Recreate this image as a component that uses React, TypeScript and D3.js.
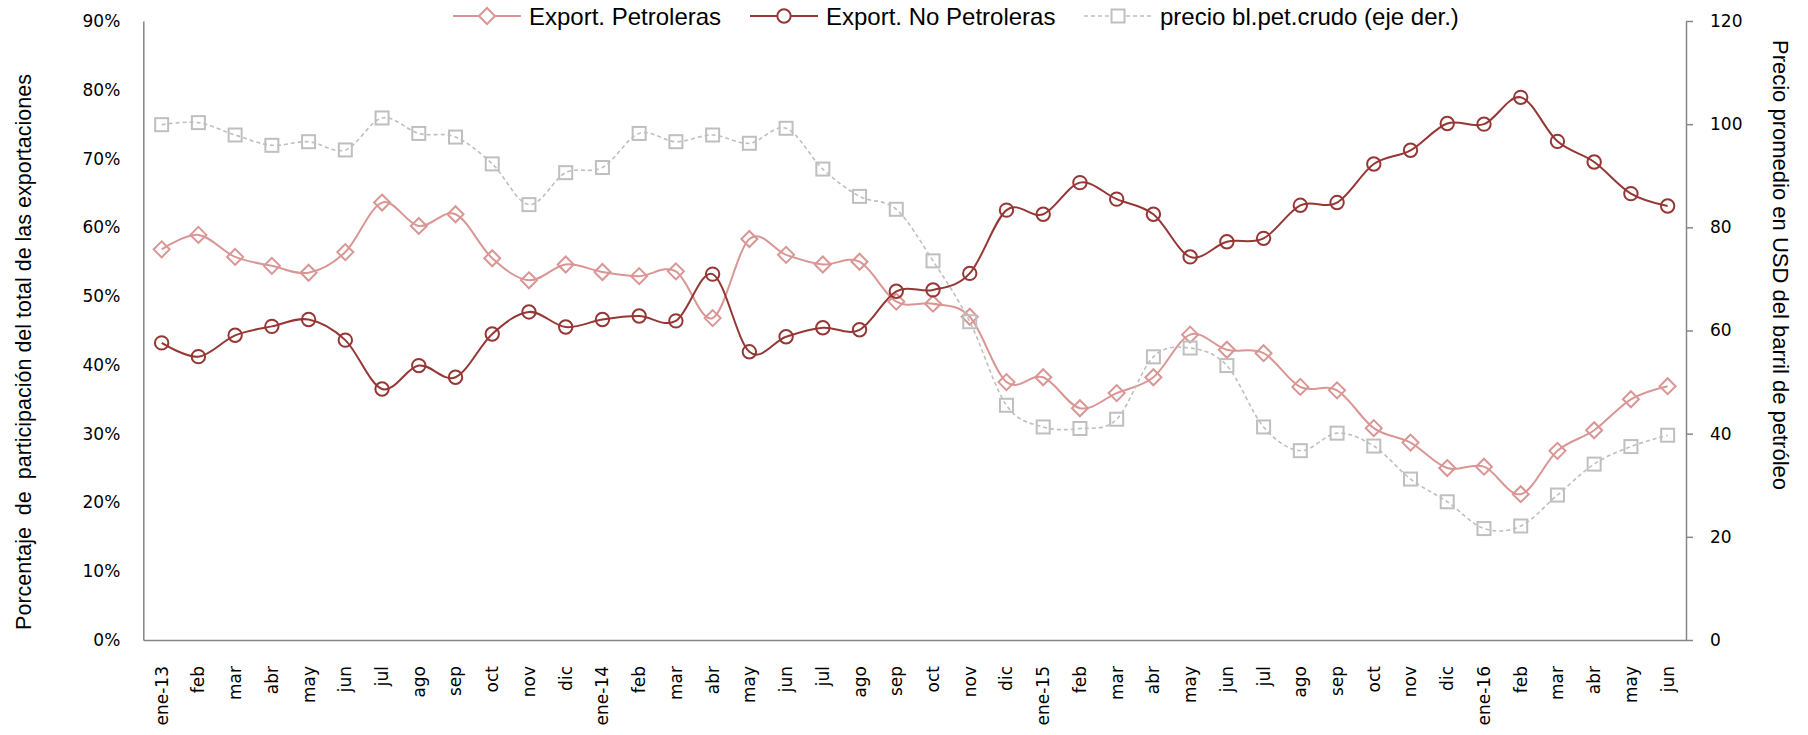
import * as d3 from 'd3';
import React, { useEffect, useRef } from 'react';

const months = [
  'ene-13', 'feb', 'mar', 'abr', 'may', 'jun', 'jul', 'ago', 'sep', 'oct', 'nov', 'dic',
  'ene-14', 'feb', 'mar', 'abr', 'may', 'jun', 'jul', 'ago', 'sep', 'oct', 'nov', 'dic',
  'ene-15', 'feb', 'mar', 'abr', 'may', 'jun', 'jul', 'ago', 'sep', 'oct', 'nov', 'dic',
  'ene-16', 'feb', 'mar', 'abr', 'may', 'jun',
];

// % del total de exportaciones
const petroleras = [
  56.8, 58.9, 55.7, 54.4, 53.4, 56.4, 63.6, 60.2, 61.9, 55.5, 52.3, 54.6,
  53.5, 52.9, 53.6, 46.8, 58.3, 56.0, 54.6, 55.0, 49.2, 48.9, 47.0, 37.5,
  38.2, 33.7, 35.9, 38.2, 44.4, 42.2, 41.7, 36.8, 36.3, 30.8, 28.7, 25.0,
  25.2, 21.2, 27.5, 30.5, 35.0, 36.9,
];

const noPetroleras = [
  43.2, 41.2, 44.3, 45.6, 46.6, 43.6, 36.5, 39.9, 38.2, 44.5, 47.7, 45.5,
  46.6, 47.1, 46.4, 53.2, 41.9, 44.1, 45.4, 45.1, 50.7, 50.9, 53.3, 62.5,
  61.9, 66.5, 64.1, 61.9, 55.7, 57.9, 58.4, 63.2, 63.6, 69.2, 71.2, 75.1,
  75.0, 78.9, 72.5, 69.5, 64.9, 63.1,
];

// USD por barril (eje derecho)
const precio = [
  99.9, 100.3, 97.9, 95.9, 96.6, 95.0, 101.2, 98.2, 97.5, 92.3, 84.4, 90.6,
  91.6, 98.2, 96.6, 97.9, 96.3, 99.2, 91.3, 86.0, 83.5, 73.5, 61.7, 45.5,
  41.3, 41.0, 42.8, 54.9, 56.6, 53.2, 41.3, 36.7, 40.1, 37.6, 31.2, 26.8,
  21.6, 22.1, 28.1, 34.1, 37.5, 39.7,
];

const pctTicks = [0, 10, 20, 30, 40, 50, 60, 70, 80, 90];
const priceTicks = [0, 20, 40, 60, 80, 100, 120];
const legendLabels = ['Export. Petroleras', 'Export. No Petroleras', 'precio bl.pet.crudo (eje der.)'];

const PINK = '#d99694';
const RED = '#953735';
const GREY = '#bfbfbf';
const AXIS = '#868686';

export default function App() {
  const ref = useRef(null);

  useEffect(() => {
    const width = 1808;
    const height = 735;
    const left = 143.3;
    const right = 1686;
    const top = 21;
    const bottom = 640;

    const svg = d3.select(ref.current);
    svg.selectAll('*').remove();
    svg.attr('width', width).attr('height', height);

    const x = d3.scaleBand()
      .domain(months.map((_, i) => i))
      .range([left, right]);
    const cx = i => x(i) + x.bandwidth() / 2;

    const yPct = d3.scaleLinear().domain([0, 90]).range([bottom, top]);
    const yPrice = d3.scaleLinear().domain([0, 120]).range([bottom, top]);

    const tickFont = g => g.selectAll('text')
      .attr('font-family', '"DejaVu Sans", sans-serif')
      .attr('font-size', 17)
      .attr('fill', '#000');

    // left axis
    svg.append('g')
      .attr('transform', `translate(${left},0)`)
      .call(d3.axisLeft(yPct).tickValues(pctTicks).tickSize(0).tickPadding(23).tickFormat(d => `${d}%`))
      .call(tickFont)
      .call(g => g.select('.domain').attr('stroke', AXIS).attr('stroke-width', 1.5));

    // right axis
    svg.append('g')
      .attr('transform', `translate(${right},0)`)
      .call(d3.axisRight(yPrice).tickValues(priceTicks).tickSize(7).tickSizeOuter(0).tickPadding(17))
      .call(tickFont)
      .call(g => g.selectAll('line').attr('stroke', AXIS).attr('stroke-width', 1.5))
      .call(g => g.select('.domain').attr('stroke', AXIS).attr('stroke-width', 1.5));

    // bottom axis
    svg.append('g')
      .attr('transform', `translate(0,${bottom})`)
      .call(d3.axisBottom(x).tickSize(0).tickFormat(i => months[i]))
      .call(tickFont)
      .call(g => g.select('.domain').attr('stroke', AXIS).attr('stroke-width', 1.5))
      .call(g => g.selectAll('text')
        .attr('transform', 'rotate(-90)')
        .attr('text-anchor', 'end')
        .attr('x', -26)
        .attr('y', 0)
        .attr('dy', '0.35em'));

    // axis titles
    svg.append('text')
      .attr('transform', 'translate(24,352) rotate(-90)')
      .attr('text-anchor', 'middle')
      .attr('dominant-baseline', 'central')
      .attr('font-family', '"Liberation Sans", Arial, sans-serif')
      .attr('font-size', 21.5)
      .style('white-space', 'pre')
      .text('Porcentaje  de  participación del total de las exportaciones');

    svg.append('text')
      .attr('transform', 'translate(1780,265) rotate(90)')
      .attr('text-anchor', 'middle')
      .attr('dominant-baseline', 'central')
      .attr('font-family', '"Liberation Sans", Arial, sans-serif')
      .attr('font-size', 22)
      .text('Precio promedio en USD del barril de petróleo');

    const curve = d3.curveCardinal.tension(0);
    const diamond = (px, py, r) => `M${px},${py - r}L${px + r},${py}L${px},${py + r}L${px - r},${py}Z`;

    // Export. Petroleras
    svg.append('path')
      .attr('d', d3.line().x((d, i) => cx(i)).y(d => yPct(d)).curve(curve)(petroleras))
      .attr('fill', 'none').attr('stroke', PINK).attr('stroke-width', 2);
    svg.append('g').selectAll('path')
      .data(petroleras)
      .join('path')
      .attr('d', (d, i) => diamond(cx(i), yPct(d), 8))
      .attr('fill', 'none').attr('stroke', PINK).attr('stroke-width', 2);

    // Export. No Petroleras
    svg.append('path')
      .attr('d', d3.line().x((d, i) => cx(i)).y(d => yPct(d)).curve(curve)(noPetroleras))
      .attr('fill', 'none').attr('stroke', RED).attr('stroke-width', 2);
    svg.append('g').selectAll('circle')
      .data(noPetroleras)
      .join('circle')
      .attr('cx', (d, i) => cx(i))
      .attr('cy', d => yPct(d))
      .attr('r', 6.7)
      .attr('fill', 'none').attr('stroke', RED).attr('stroke-width', 2);

    // precio (eje der.)
    svg.append('path')
      .attr('d', d3.line().x((d, i) => cx(i)).y(d => yPrice(d)).curve(curve)(precio))
      .attr('fill', 'none').attr('stroke', GREY).attr('stroke-width', 1.6)
      .attr('stroke-dasharray', '4,3');
    svg.append('g').selectAll('rect')
      .data(precio)
      .join('rect')
      .attr('x', (d, i) => cx(i) - 6.5)
      .attr('y', d => yPrice(d) - 6.5)
      .attr('width', 13)
      .attr('height', 13)
      .attr('fill', 'none').attr('stroke', GREY).attr('stroke-width', 2);

    // legend
    const legendY = 16;
    const legendX = [453, 750, 1084];
    const styles = [
      { color: PINK, dash: null, w: 2 },
      { color: RED, dash: null, w: 2 },
      { color: GREY, dash: '4,3', w: 1.6 },
    ];
    legendLabels.forEach((label, k) => {
      const g = svg.append('g').attr('transform', `translate(${legendX[k]},${legendY})`);
      const s = styles[k];
      g.append('line')
        .attr('x1', 0).attr('x2', 68).attr('y1', 0).attr('y2', 0)
        .attr('stroke', s.color).attr('stroke-width', s.w)
        .attr('stroke-dasharray', s.dash);
      if (k === 0) {
        g.append('path').attr('d', diamond(34, 0, 8))
          .attr('fill', '#fff').attr('stroke', s.color).attr('stroke-width', 2);
      } else if (k === 1) {
        g.append('circle').attr('cx', 34).attr('cy', 0).attr('r', 6.7)
          .attr('fill', '#fff').attr('stroke', s.color).attr('stroke-width', 2);
      } else {
        g.append('rect').attr('x', 27.5).attr('y', -6.5).attr('width', 13).attr('height', 13)
          .attr('fill', '#fff').attr('stroke', s.color).attr('stroke-width', 2);
      }
      g.append('text')
        .attr('x', 76)
        .attr('y', 0)
        .attr('dominant-baseline', 'central')
        .attr('font-family', '"Liberation Sans", Arial, sans-serif')
        .attr('font-size', 24)
        .text(label);
    });
  }, []);

  return <svg ref={ref} style={{ position: 'absolute', left: 0, top: 0, display: 'block' }}></svg>;
}
